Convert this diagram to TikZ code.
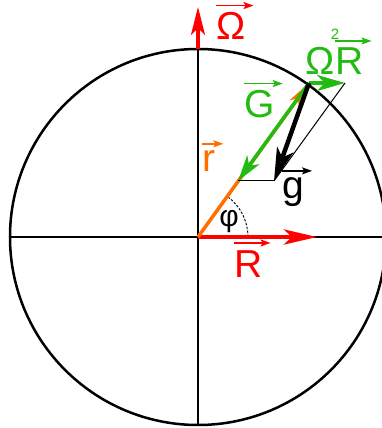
\documentclass[tikz,border=0pt]{standalone}
\usepackage{fontspec}
\setmainfont{Liberation Sans}
\usetikzlibrary{arrows.meta}
\definecolor{vecgreen}{RGB}{34,187,17}
\definecolor{vecorange}{RGB}{255,110,0}

\begin{document}
\begin{tikzpicture}[x=1pt, y=1pt, >=Stealth,
  lbl/.style={inner sep=0pt, font=\fontsize{39}{42}\selectfont},
  overarrow/.style={line width=1.6pt, -{Stealth[length=10pt,width=7pt,inset=2pt]}}]
\useasboundingbox (-198,-191) rectangle (183,237);

% Circle and axes
\draw[line width=2.5pt] (0,0) coordinate(O) circle (188);
\draw[line width=2.5pt] (-188,0) -- (188,0);
\draw[line width=2.5pt] (0,-188) -- (0,188) coordinate(N);

\coordinate (P) at (111,154);
\coordinate (Gtip) at (40,56);
\coordinate (Ctip) at (147,154);
\coordinate (gtip) at (76,56);

% angle phi
\draw[line width=0.9pt, dash pattern=on 2.5pt off 1.5pt] (50,0) arc (0:54:50);

% Omega and R
\draw[red, line width=3.5pt, -{Stealth[length=28pt,width=14pt,inset=7pt]}] (N) -- (0,230);
\draw[red, line width=4.5pt, -{Stealth[length=33pt,width=15pt,inset=8pt]}] (O) -- (119,0);

% r, G, centripetal
\draw[vecorange, line width=3.5pt, -{Stealth[length=25pt,width=11pt,inset=6pt]}] (O) -- (P);
\draw[vecgreen, line width=3.5pt, -{Stealth[length=26pt,width=15pt,inset=7pt]}] (P) -- (Gtip);
\draw[vecgreen, line width=3.5pt, -{Stealth[length=28pt,width=16pt,inset=8pt]}] (P) -- (Ctip);

% parallelogram
\draw[line width=1pt] (Gtip) -- (gtip);
\draw[line width=1pt] (Ctip) -- (gtip);
\draw[line width=4.5pt, -{Stealth[length=33pt,width=17pt,inset=8pt]}] (P) -- (gtip);

% Labels
\node[lbl, red, anchor=base west] (OmegaL) at (18,197) {Ω};
\node[lbl, red, anchor=base west] (RL) at (36,-40) {R};
\node[lbl, vecgreen, anchor=base west] (GL) at (46,119) {G};
\node[lbl, vecorange, anchor=base west] (rL) at (4,65) {r};
\node[lbl, anchor=base west] (gL) at (84,38) {g};
\node[lbl, vecgreen, anchor=base west] (OmL) at (107,162) {Ω};
\node[lbl, vecgreen, anchor=base west] (R2L) at (137,162) {R};
\node[inner sep=0pt, vecgreen, font=\fontsize{15}{15}\selectfont] (twoL) at (137,203) {2};
\node[inner sep=0pt, font=\fontsize{30}{32}\selectfont] (phiL) at (31,15) {φ};

\foreach \n/\c in {OmegaL/red, RL/red, GL/vecgreen, rL/vecorange, gL/black, R2L/vecgreen}
  \draw[\c, overarrow] ([yshift=7pt]\n.north west) -- ([xshift=8pt,yshift=7pt]\n.north east);
\end{tikzpicture}
\end{document}
